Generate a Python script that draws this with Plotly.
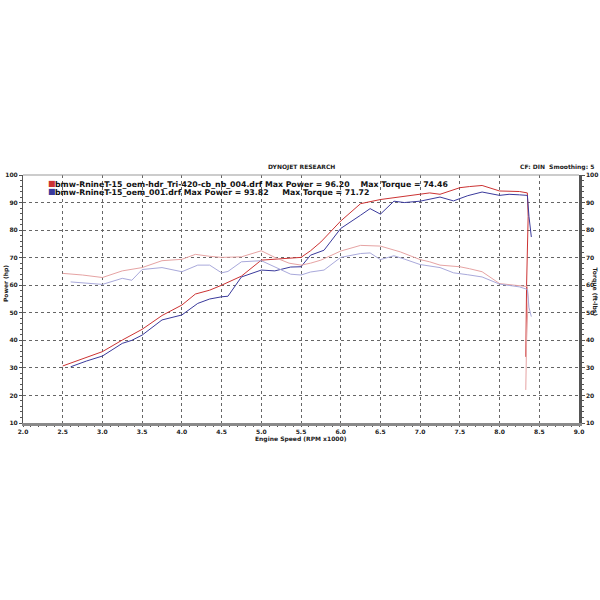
import plotly.graph_objects as go

# Red run (oem-hdr_Tri-420-cb_nb_004)
red_rpm = [2.5, 2.75, 3.0, 3.25, 3.5, 3.75, 4.0, 4.17, 4.35, 4.5, 4.62, 4.75, 5.0, 5.17, 5.35, 5.5,
           5.62, 5.75, 6.0, 6.25, 6.5, 6.75, 7.0, 7.12, 7.25, 7.5, 7.62, 7.78, 8.0, 8.12, 8.25, 8.35, 8.36, 8.34, 8.33]
red_power = [30.7, 33.2, 35.9, 40.1, 44.0, 49.0, 52.8, 56.8, 58.2, 60.0, 61.5, 63.3, 69.1, 69.5, 69.8, 70.1,
             72.5, 75.7, 83.3, 89.6, 91.1, 92.0, 92.9, 93.5, 93.0, 95.4, 95.8, 96.2, 94.2, 94.0, 94.0, 93.5, 85.0, 60.0, 34.0]
red_torque = [64.3, 63.7, 62.8, 65.2, 66.4, 68.9, 69.4, 71.2, 70.5, 70.1, 70.2, 70.3, 72.5, 70.1, 68.0, 67.3,
              68.0, 69.1, 72.4, 74.46, 74.2, 72.1, 69.3, 68.5, 67.3, 66.7, 66.0, 64.9, 60.6, 60.3, 60.0, 59.5, 55.0, 40.0, 22.0]

# Blue run (oem_001)
blue_rpm = [2.6, 2.8, 3.0, 3.25, 3.37, 3.5, 3.75, 4.0, 4.2, 4.35, 4.5, 4.58, 4.75, 5.0, 5.17, 5.37, 5.5,
            5.62, 5.79, 6.0, 6.25, 6.37, 6.5, 6.67, 6.8, 7.0, 7.25, 7.42, 7.6, 7.78, 8.0, 8.12, 8.25, 8.35, 8.37, 8.4]
blue_power = [30.4, 32.5, 34.3, 38.9, 40.0, 41.9, 47.4, 49.2, 53.4, 55.0, 55.8, 56.0, 63.0, 65.5, 65.2, 66.6, 66.7,
              70.9, 72.7, 80.6, 85.4, 87.8, 85.8, 90.5, 90.0, 90.5, 92.0, 90.6, 92.5, 93.82, 92.6, 93.0, 92.8, 92.6, 85.0, 77.5]
blue_torque = [61.2, 60.8, 60.3, 62.5, 61.8, 65.7, 66.4, 64.9, 67.3, 67.3, 64.5, 65.0, 68.5, 68.9, 66.7, 64.0, 63.7,
               64.8, 65.5, 70.1, 71.5, 71.72, 69.3, 70.7, 69.5, 67.5, 66.4, 64.5, 63.8, 63.0, 60.4, 59.8, 59.4, 58.5, 52.0, 48.6]

x_ticks = [2.0, 2.5, 3.0, 3.5, 4.0, 4.5, 5.0, 5.5, 6.0, 6.5, 7.0, 7.5, 8.0, 8.5, 9.0]
y_ticks = [10, 20, 30, 40, 50, 60, 70, 80, 90, 100]

legend_lines = [
    "bmw-RnineT-15_oem-hdr_Tri-420-cb_nb_004.drf Max Power = 96.20&nbsp;&nbsp;&nbsp; Max Torque = 74.46",
    "bmw-RnineT-15_oem_001.drf Max Power = 93.82&nbsp;&nbsp;&nbsp;&nbsp; Max Torque = 71.72",
]

FONT = "DejaVu Sans"
RED, BLUE = "#cc3333", "#3a3a9c"
RED_T, BLUE_T = "#e6a3a3", "#a9a9db"

fig = go.Figure()
fig.add_trace(go.Scatter(x=red_rpm, y=red_torque, mode="lines", line=dict(color=RED_T, width=1), yaxis="y2"))
fig.add_trace(go.Scatter(x=blue_rpm, y=blue_torque, mode="lines", line=dict(color=BLUE_T, width=1), yaxis="y2"))
fig.add_trace(go.Scatter(x=red_rpm, y=red_power, mode="lines", line=dict(color=RED, width=1)))
fig.add_trace(go.Scatter(x=blue_rpm, y=blue_power, mode="lines", line=dict(color=BLUE, width=1)))

tickfont = dict(family=FONT, size=6, color="#222", weight="bold")
fig.update_layout(
    width=600, height=600, showlegend=False,
    paper_bgcolor="white", plot_bgcolor="white",
    margin=dict(l=23, r=21, t=175, b=177, autoexpand=False),
    xaxis=dict(range=[2.0, 9.0], tickvals=x_ticks, ticktext=[f"{v:.1f}" for v in x_ticks],
               tickfont=tickfont, showgrid=True, gridcolor="#666", griddash="dot", gridwidth=1,
               showline=True, linecolor="#8a8a8a", linewidth=3, ticks="outside", ticklen=1,
               tickcolor="#555", minor=dict(dtick=0.1, ticks="outside", ticklen=1, tickcolor="#555"),
               zeroline=False, automargin=False),
    yaxis=dict(range=[10, 100], tickvals=y_ticks, tickfont=tickfont, showgrid=True, gridcolor="#666",
               griddash="dot", gridwidth=1, showline=True, linecolor="#555", linewidth=1,
               ticks="outside", ticklen=3, tickcolor="#555",
               minor=dict(dtick=2, ticks="outside", ticklen=2, tickcolor="#555"), zeroline=False,
               automargin=False),
    yaxis2=dict(range=[10, 100], tickvals=y_ticks, tickfont=tickfont, overlaying="y", side="right",
                showgrid=False, showline=True, linecolor="#555", linewidth=2.5, ticks="outside",
                ticklen=3, tickcolor="#555", minor=dict(dtick=2, ticks="outside", ticklen=2, tickcolor="#555"),
                zeroline=False, automargin=False),
)

# top border of the plot frame
fig.add_shape(type="line", xref="paper", yref="paper", x0=0, x1=1, y0=1, y1=1,
              line=dict(color="#999", width=1))

ann_font = dict(family=FONT, size=6, color="#222", weight="bold")
fig.add_annotation(text="DYNOJET RESEARCH", xref="paper", yref="paper", x=0.5, y=1.0, yshift=2,
                   showarrow=False, font=ann_font, xanchor="center", yanchor="bottom")
fig.add_annotation(text="CF: DIN&nbsp;&nbsp;Smoothing: 5", xref="paper", yref="paper", x=1.0, xshift=17,
                   y=1.0, yshift=2, showarrow=False, font=ann_font, xanchor="right", yanchor="bottom")
fig.add_annotation(text="Engine Speed (RPM x1000)", xref="paper", yref="paper", x=0.5, y=0, yshift=-10,
                   showarrow=False, font=ann_font, xanchor="center", yanchor="top")
fig.add_annotation(text="Power (hp)", xref="paper", yref="paper", x=0, xshift=-17, y=0.56,
                   textangle=-90, showarrow=False, font=ann_font, xanchor="center", yanchor="middle")
fig.add_annotation(text="Torque (ft-lbs)", xref="paper", yref="paper", x=1, xshift=16, y=0.53,
                   textangle=90, showarrow=False, font=ann_font, xanchor="center", yanchor="middle")

leg_font = dict(family=FONT, size=7.8, color="#111", weight="bold")
for i, (txt, col) in enumerate(zip(legend_lines, [RED, BLUE])):
    fig.add_annotation(text=txt, xref="paper", yref="paper", x=0.0, xshift=30, y=1.0, yshift=-3 - 7.5 * i,
                       showarrow=False, font=leg_font, xanchor="left", yanchor="top")
    fig.add_annotation(text="■", xref="paper", yref="paper", x=0.0, xshift=23, y=1.0, yshift=-2 - 7.5 * i,
                       showarrow=False, font=dict(family=FONT, size=8, color=col), xanchor="left", yanchor="top")

fig.write_html("out.html", config={"displayModeBar": False},
               post_script="document.body.style.margin='0';")
